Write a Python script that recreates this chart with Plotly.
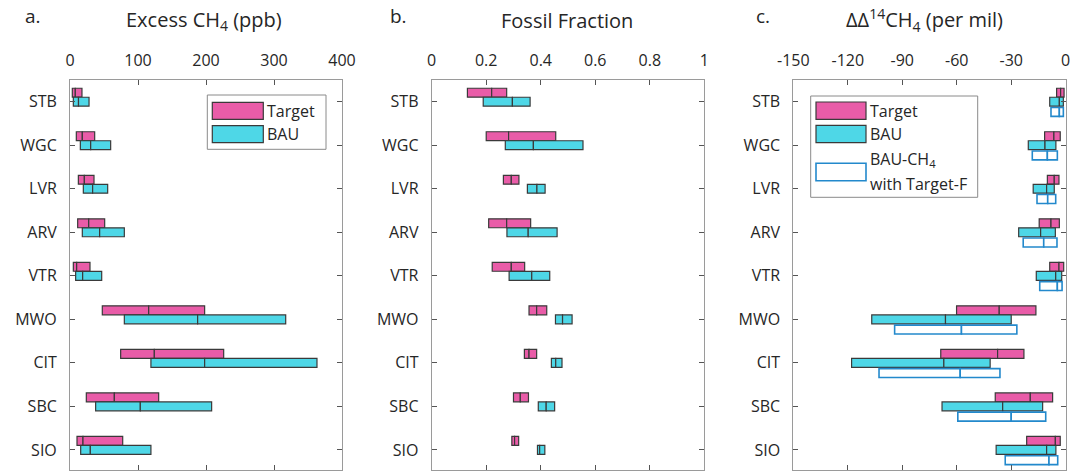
import plotly.graph_objects as go

W, H = 1073, 472

sites = ["STB", "WGC", "LVR", "ARV", "VTR", "MWO", "CIT", "SBC", "SIO"]

# Panel a: Excess CH4 (ppb)
ch4_target_lo = [3.4, 9.3, 12.3, 11.3, 4.9, 47.5, 74.5, 24.0, 10.3]
ch4_target_med = [7.8, 18.1, 21.1, 27.5, 9.8, 115.7, 124.0, 65.2, 19.1]
ch4_target_hi = [17.6, 36.3, 35.3, 51.0, 29.4, 198.0, 226.0, 130.4, 77.5]
ch4_bau_lo = [4.9, 15.2, 19.6, 18.1, 8.3, 79.9, 119.0, 37.7, 15.7]
ch4_bau_med = [12.5, 30.4, 33.3, 43.6, 18.6, 187.7, 198.0, 103.4, 29.9]
ch4_bau_hi = [28.0, 59.8, 55.4, 79.9, 46.6, 317.2, 363.2, 208.3, 119.0]

# Panel b: Fossil fraction
ff_target_lo = [0.131, 0.200, 0.263, 0.209, 0.222, 0.357, 0.340, 0.300, 0.294]
ff_target_med = [0.220, 0.282, 0.292, 0.275, 0.292, 0.385, 0.357, 0.325, 0.304]
ff_target_hi = [0.275, 0.455, 0.320, 0.363, 0.341, 0.422, 0.385, 0.355, 0.319]
ff_bau_lo = [0.189, 0.270, 0.351, 0.276, 0.284, 0.454, 0.439, 0.391, 0.388]
ff_bau_med = [0.296, 0.373, 0.386, 0.354, 0.367, 0.480, 0.455, 0.420, 0.396]
ff_bau_hi = [0.361, 0.555, 0.416, 0.460, 0.433, 0.515, 0.478, 0.451, 0.415]

# Panel c: DeltaDelta 14CH4 (per mil)
dd_target_lo = [-5.0, -11.6, -10.1, -14.6, -8.8, -60.1, -68.8, -38.8, -21.5]
dd_target_med = [-2.8, -6.5, -6.3, -8.1, -3.7, -36.6, -37.5, -19.5, -5.7]
dd_target_hi = [-0.9, -3.0, -3.7, -3.5, -1.1, -16.4, -23.0, -7.2, -3.0]
dd_bau_lo = [-8.8, -20.6, -17.9, -25.9, -16.2, -106.8, -117.9, -68.1, -38.3]
dd_bau_med = [-3.5, -11.4, -10.5, -13.8, -5.5, -66.2, -67.1, -34.7, -10.5]
dd_bau_hi = [-1.3, -5.4, -6.3, -5.7, -2.2, -30.0, -41.6, -12.7, -5.4]
dd_bauf_lo = [-8.1, -18.4, -15.8, -23.4, -14.3, -94.2, -102.8, -59.4, -33.3]
dd_bauf_med = [-3.5, -10.1, -9.9, -12.1, -4.6, -57.4, -58.1, -30.0, -9.2]
dd_bauf_hi = [-1.3, -4.6, -5.5, -4.8, -2.0, -26.9, -36.2, -11.0, -4.4]

a_ticks = [0, 100, 200, 300, 400]
b_ticks = [0, 0.2, 0.4, 0.6, 0.8, 1]
b_ticktext = ["0", "0.2", "0.4", "0.6", "0.8", "1"]
c_ticks = [-150, -120, -90, -60, -30, 0]
c_ticktext = ["-150", "-120", "-90", "-60", "-30", "0"]

PINK = "#E95CA8"
CYAN = "#4ED7E7"
EDGE = "#3a3a3a"
BLUE = "#2389CC"
FONT = "Open Sans"

pos = list(range(1, len(sites) + 1))
BW = 0.205
OFF_T = -0.207
OFF_F = 0.235

fig = go.Figure()


def add_box(lo, med, hi, offset, fill, edge, xa, ya, lw=1.2):
    y = [p + offset for p in pos]
    for base, top in ((lo, med), (med, hi)):
        fig.add_trace(go.Bar(
            orientation="h", y=y, x=[t - b for b, t in zip(base, top)], base=base,
            width=BW, marker=dict(color=fill, line=dict(color=edge, width=lw)),
            xaxis=xa, yaxis=ya, showlegend=False, hoverinfo="skip"))


add_box(ch4_target_lo, ch4_target_med, ch4_target_hi, OFF_T, PINK, EDGE, "x", "y")
add_box(ch4_bau_lo, ch4_bau_med, ch4_bau_hi, 0, CYAN, EDGE, "x", "y")
add_box(ff_target_lo, ff_target_med, ff_target_hi, OFF_T, PINK, EDGE, "x2", "y2")
add_box(ff_bau_lo, ff_bau_med, ff_bau_hi, 0, CYAN, EDGE, "x2", "y2")
add_box(dd_target_lo, dd_target_med, dd_target_hi, OFF_T, PINK, EDGE, "x3", "y3")
add_box(dd_bau_lo, dd_bau_med, dd_bau_hi, 0, CYAN, EDGE, "x3", "y3")
add_box(dd_bauf_lo, dd_bauf_med, dd_bauf_hi, OFF_F, "white", BLUE, "x3", "y3", lw=1.6)


def px(x):
    return x / W


def py(y):
    return 1 - y / H


ydom = [py(470), py(80)]
xdoms = [[px(70), px(342)], [px(431.7), px(704.3)], [px(793.3), px(1065.7)]]
ranges = [[0, 400], [0, 1], [-150, 0]]
tick_sets = [(a_ticks, [str(t) for t in a_ticks]), (b_ticks, b_ticktext), (c_ticks, c_ticktext)]

axis_common = dict(showline=True, linecolor="#9a9a9a", linewidth=1, mirror="ticks",
                   ticks="inside", ticklen=5, tickcolor="#555555", tickwidth=1,
                   showgrid=False, zeroline=False, automargin=False,
                   tickfont=dict(family=FONT, size=16, color="#262626"))

layout = dict(width=W, height=H,
              margin=dict(l=0, r=0, t=0, b=0, pad=0, autoexpand=False),
              paper_bgcolor="white", plot_bgcolor="white", barmode="overlay",
              showlegend=False)
for i in range(3):
    sx = "" if i == 0 else str(i + 1)
    layout["xaxis" + sx] = dict(axis_common, domain=xdoms[i], range=ranges[i], side="top",
                                tickvals=tick_sets[i][0], ticktext=tick_sets[i][1],
                                anchor="y" + sx, ticklabelstandoff=7)
    layout["yaxis" + sx] = dict(axis_common, domain=ydom, range=[9.461, 0.5015],
                                tickvals=pos, ticktext=sites, anchor="x" + sx,
                                ticklabelstandoff=9)
fig.update_layout(**layout)

ann = []
titles = [(33, "a."), (398, "b."), (763, "c.")]
for x, t in titles:
    ann.append(dict(x=px(x), y=py(16), xref="paper", yref="paper", text=t, showarrow=False,
                    font=dict(family=FONT, size=19, color="#262626"), xanchor="center", yanchor="middle"))
main_titles = [(204, "Excess CH<sub>4</sub> (ppb)"), (567, "Fossil Fraction"),
               (925, "ΔΔ<sup>14</sup>CH<sub>4</sub> (per mil)")]
for x, t in main_titles:
    ann.append(dict(x=px(x), y=py(20), xref="paper", yref="paper", text=t, showarrow=False,
                    font=dict(family=FONT, size=20, color="#262626"), xanchor="center", yanchor="middle"))

shapes = []


def rect(x0, y0, x1, y1, fill, line, lw=1.2):
    shapes.append(dict(type="rect", xref="paper", yref="paper", x0=px(x0), x1=px(x1),
                       y0=py(y1), y1=py(y0), fillcolor=fill, line=dict(color=line, width=lw)))


def label(x, y, t):
    ann.append(dict(x=px(x), y=py(y), xref="paper", yref="paper", text=t, showarrow=False,
                    font=dict(family=FONT, size=16, color="#262626"), xanchor="left", yanchor="middle"))


# Legend panel a
rect(207.3, 95, 326, 149.3, "white", "#8a8a8a", 1)
rect(212.3, 102.3, 263.3, 119.3, PINK, EDGE)
rect(212.3, 125.7, 263.3, 142.7, CYAN, EDGE)
label(265, 110.5, "Target")
label(265, 134, "BAU")

# Legend panel c
rect(810.7, 96, 977.7, 197.3, "white", "#8a8a8a", 1)
rect(816, 102, 866, 119.3, PINK, EDGE)
rect(816, 125.3, 866, 142.7, CYAN, EDGE)
rect(816, 163.3, 866, 180.7, "white", BLUE, 1.6)
label(868, 110.5, "Target")
label(868, 134, "BAU")
label(868, 159, "BAU-CH<sub>4</sub>")
label(868, 184, "with Target-F")

fig.update_layout(annotations=ann, shapes=shapes)
fig.write_html("out.html", config={"displayModeBar": False},
               post_script="document.body.style.margin='0';document.body.style.overflow='hidden';")
